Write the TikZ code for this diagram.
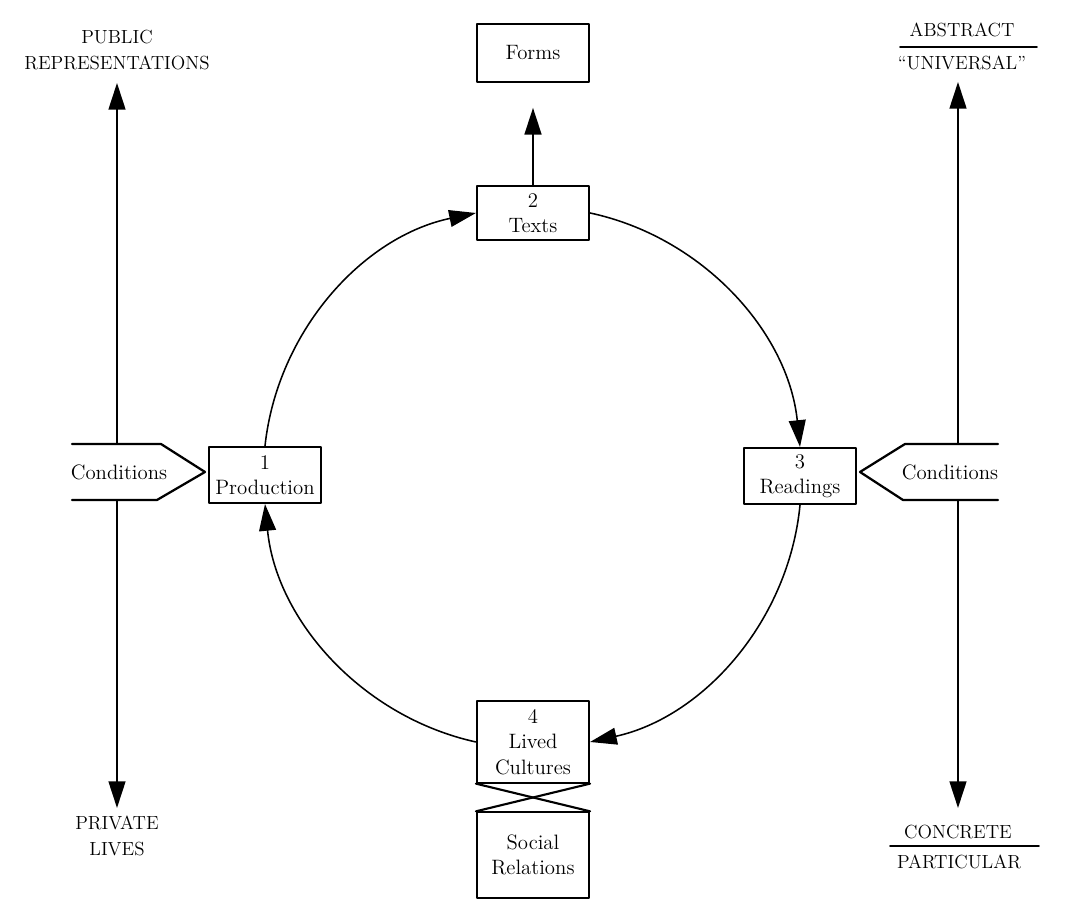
\documentclass[tikz,border=0pt]{standalone}
\usepackage{tikz}
\usetikzlibrary{arrows.meta}

\begin{document}
\begin{tikzpicture}[line cap=round,line join=round,>={Triangle[length=19pt,width=12pt]},x=0.025cm,y=0.025cm,
  every node/.style={font=\fontsize{13.5}{18}\selectfont},
  word/.style={font=\fontsize{14.8}{18}\selectfont},
  stage/.style={draw,word,line width=1.5pt,align=center,minimum width=2.8cm,inner sep=2pt},
  cycle/.style={->,line width=1.1pt,bend left=36,looseness=0.94},
  axis/.style={->,line width=1.4pt}]
        \useasboundingbox (0,0) rectangle (1080,918);
        % \draw [help lines,step=100] (0,0) grid (1080,918);
        \node[stage,minimum height=1.4cm] (prod) at (265,443) {1\\Production};
        \node[stage,minimum height=1.33cm] (texts) at (533,705) {2\\Texts};
        \node[stage,minimum height=1.4cm] (read) at (800,442) {3\\Readings};
        \node[stage,minimum height=2.03cm] (lived) at (533,176) {4\\Lived\\Cultures};
        \node[stage,minimum height=2.13cm] (social) at (533,63) {Social\\Relations};
        \node[stage,minimum height=1.45cm] (forms) at (533,865) {Forms};
        \draw[cycle] (prod.north) to (texts.west);
        \draw[cycle] (texts.east) to (read.north);
        \draw[cycle] (read.south) to (lived.east);
        \draw[cycle] (lived.west) to (prod.south);
        \draw[axis,shorten >=0.62cm] (texts.north) -- (forms.south);
        \draw[line width=1.5pt] (lived.south west) -- (social.north east);
        \draw[line width=1.5pt] (lived.south east) -- (social.north west);
        % left axis
        \node[word,minimum height=1.4cm] (condL) at (119,446) {Conditions};
        \draw[line width=1.6pt] (72,474) -- (161,474) -- (205,446) -- (157,418) -- (72,418);
        \node[align=center] (pub) at (117,868) {PUBLIC\\REPRESENTATIONS};
        \node[align=center] (priv) at (117,82) {PRIVATE\\LIVES};
        \coordinate (lTop) at (117,835);
        \coordinate (lBot) at (117,110);
        \draw[axis] (condL.north -| lTop) -- (lTop);
        \draw[axis] (condL.south -| lBot) -- (lBot);
        % right axis
        \node[word,minimum height=1.4cm] (condR) at (950,446) {Conditions};
        \draw[line width=1.6pt] (998,474) -- (905,474) -- (860,446) -- (903,418) -- (998,418);
        \node (abst) at (962,888) {ABSTRACT};
        \node (univ) at (962,855) {``UNIVERSAL''};
        \draw[line width=1.2pt] (900,871) -- (1037,871);
        \node (concr) at (958,86) {CONCRETE};
        \node (partic) at (959,56) {PARTICULAR};
        \draw[line width=1.2pt] (890,72) -- (1039,72);
        \coordinate (rTop) at (958,836);
        \coordinate (rBot) at (958,110);
        \draw[axis] (condR.north -| rTop) -- (rTop);
        \draw[axis] (condR.south -| rBot) -- (rBot);
      \end{tikzpicture}
\end{document}
